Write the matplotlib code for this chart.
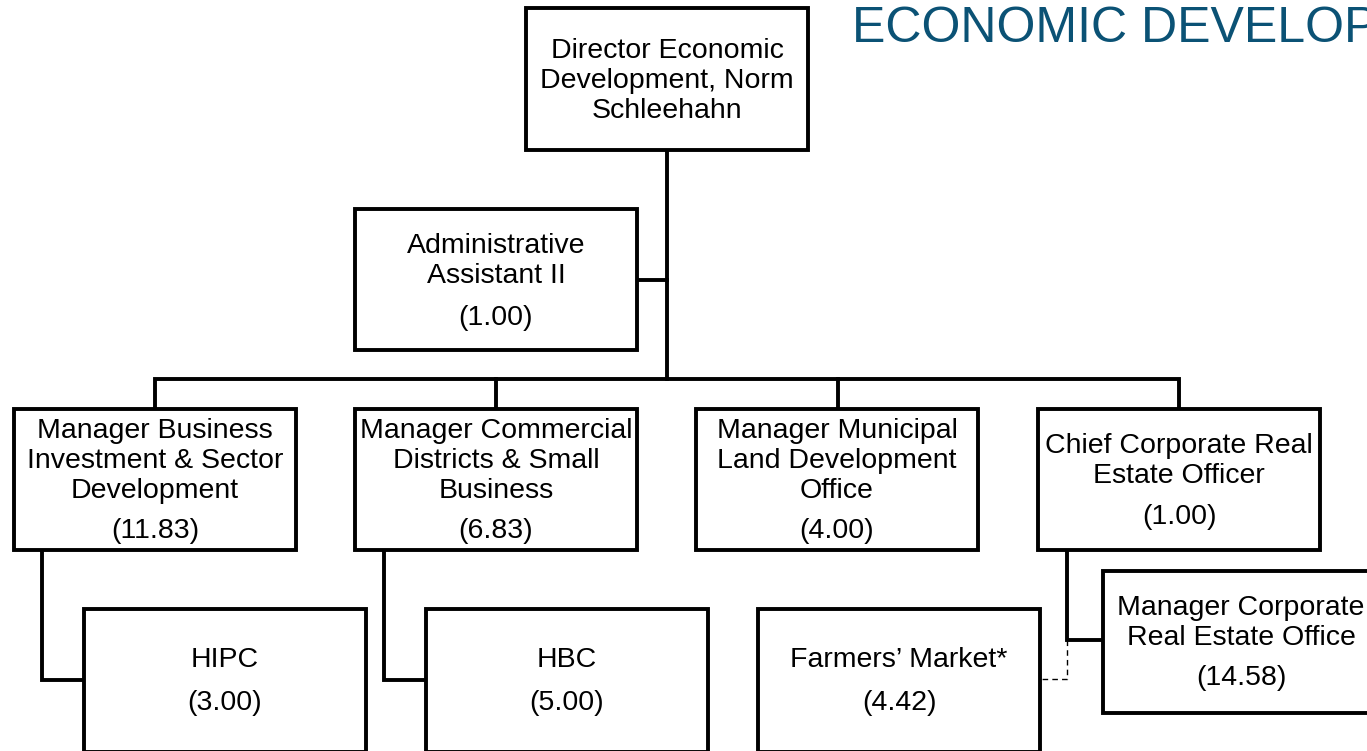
import matplotlib.pyplot as plt
from matplotlib.patches import Rectangle

plt.rcParams['font.family'] = ['Liberation Sans', 'DejaVu Sans']

# ---- chart content ----
title = 'ECONOMIC DEVELOPMENT'
titles = [
    'Director Economic\nDevelopment, Norm\nSchleehahn',
    'Administrative\nAssistant II',
    'Manager Business\nInvestment & Sector\nDevelopment',
    'Manager Commercial\nDistricts & Small\nBusiness',
    'Manager Municipal\nLand Development\nOffice',
    'Chief Corporate Real\nEstate Officer',
    'HIPC',
    'HBC',
    'Farmers\u2019 Market*',
    'Manager Corporate\nReal Estate Office',
]
fte = [None, '1.00', '11.83', '6.83', '4.00', '1.00', '3.00', '5.00', '4.42', '14.58']

# ---- layout (pixels): x0, y0, x1, y1, title center y, fte center y, text center x ----
boxes = [
    (526, 8, 808, 150, 81, None, 667),
    (355, 209, 637, 350, 261, 318, 496),
    (14, 409, 296, 550, 461, 531, 155),
    (355, 409, 637, 550, 461, 531, 496),
    (696, 409, 978, 550, 461, 531, 837),
    (1038, 409, 1320, 550, 461, 517, 1179),
    (84, 609, 366, 752, 660, 703, 225),
    (426, 609, 708, 752, 660, 703, 567),
    (758, 609, 1040, 752, 660, 703, 899),
    (1103, 571, 1390, 713, 623, 678, 1241),
]

# solid connector polylines
connectors = [
    [(667, 150), (667, 379)],
    [(637, 280), (667, 280)],
    [(155, 409), (155, 379), (1179, 379), (1179, 409)],
    [(496, 379), (496, 409)],
    [(838, 379), (838, 409)],
    [(42, 550), (42, 680), (84, 680)],
    [(384, 550), (384, 680), (426, 680)],
    [(1067, 550), (1067, 640), (1103, 640)],
]
dashed = [(1067, 640), (1067, 679), (1040, 679)]

W, H = 1367, 751
fig = plt.figure(figsize=(W / 100, H / 100), dpi=100)
ax = fig.add_axes([0, 0, 1, 1])
ax.set_xlim(0, W)
ax.set_ylim(H, 0)
ax.axis('off')

for line in connectors:
    xs, ys = zip(*line)
    ax.plot(xs, ys, color='black', lw=2.8, solid_joinstyle='miter', zorder=1)
xs, ys = zip(*dashed)
ax.plot(xs, ys, color='black', lw=1.0, ls=(0, (4, 3)), zorder=1)

for (x0, y0, x1, y1, ty, fy, cx), label, val in zip(boxes, titles, fte):
    ax.add_patch(Rectangle((x0, y0), x1 - x0, y1 - y0, facecolor='white',
                           edgecolor='black', lw=2.8, joinstyle='miter', zorder=2))
    ax.text(cx, ty, label, ha='center', va='center', fontsize=20.5,
            linespacing=1.18, zorder=3)
    if val is not None:
        ax.text(cx, fy, f'({val})', ha='center', va='center', fontsize=20.5, zorder=3)

ax.text(852, 29, title, ha='left', va='center', fontsize=36, color='#0B5275', zorder=3)

fig.savefig('out.png', dpi=100)
